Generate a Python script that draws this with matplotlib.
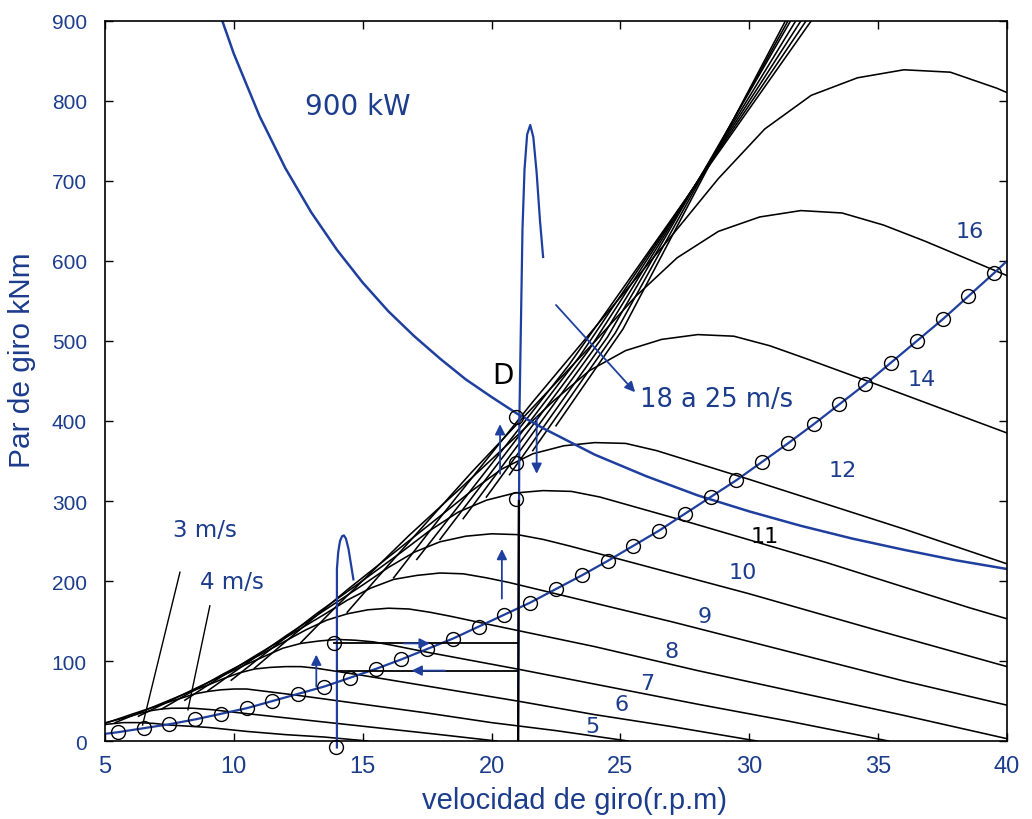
import matplotlib
matplotlib.use("Agg")
import matplotlib.pyplot as plt

plt.rcParams["font.family"] = ["Liberation Sans", "DejaVu Sans"]

azul = "#1f3f9f"
azul_txt = "#1c3c8c"
ancha = ["DejaVu Sans"]

# curvas par / velocidad de giro para cada viento (m/s)
rpm_3 = [4.5, 5.1, 5.7, 6.3, 6.9, 7.5, 9.0, 10.5, 12.0, 13.5, 15.2]
par_3 = [18, 21, 23, 23, 22, 20, 17, 12, 8, 5, 0]
rpm_4 = [4.8, 5.4, 6.0, 6.4, 6.8, 7.2, 7.6, 8.0, 8.4, 8.8, 9.2, 10.0, 12.0, 14.0, 16.0, 18.0, 20.2]
par_4 = [21, 26, 31, 35, 38, 40, 41, 41, 41, 40, 39, 36, 29, 22, 15, 8, 0]
rpm_5 = [4.5, 5.0, 6.0, 6.75, 7.5, 8.0, 8.5, 9.0, 9.5, 10.0, 10.5, 11.0, 11.5, 12.5, 15.0, 17.5, 20.0, 22.5, 25.3]
par_5 = [16, 22, 33, 41, 49, 54, 59, 62, 64, 65, 65, 63, 61, 57, 46, 35, 23, 13, 0]
rpm_6 = [5.4, 6.0, 7.2, 8.1, 9.0, 9.6, 10.2, 10.8, 11.4, 12.0, 12.6, 13.2, 13.8, 15.0, 18.0, 21.0, 24.0, 27.0, 30.3]
par_6 = [23, 31, 47, 59, 70, 78, 85, 90, 92, 93, 93, 91, 88, 82, 66, 50, 33, 18, 0]
rpm_7 = [6.3, 7.0, 8.4, 9.45, 10.5, 11.2, 11.9, 12.6, 13.3, 14.0, 14.7, 15.4, 16.1, 17.5, 21.0, 24.5, 28.0, 31.5, 35.4]
par_7 = [31, 42, 64, 80, 96, 106, 116, 122, 125, 127, 126, 124, 120, 111, 90, 68, 46, 25, 0]
rpm_8 = [7.2, 8.0, 9.6, 10.8, 12.0, 12.8, 13.6, 14.4, 15.2, 16.0, 16.8, 17.6, 18.4, 20.0, 24.0, 28.0, 32.0, 36.0, 40.4]
par_8 = [40, 55, 84, 104, 125, 139, 151, 159, 164, 166, 165, 161, 156, 145, 118, 88, 60, 32, 0]
rpm_9 = [8.1, 9.0, 10.8, 12.15, 13.5, 14.4, 15.3, 16.2, 17.1, 18.0, 18.9, 19.8, 20.7, 22.5, 27.0, 31.5, 36.0, 40.5]
par_9 = [51, 70, 106, 132, 158, 176, 191, 202, 207, 210, 209, 204, 198, 184, 149, 112, 75, 41]
rpm_10 = [9, 10, 12, 13.5, 15, 16, 17, 18, 19, 20, 21, 22, 23, 25, 30, 35, 40]
par_10 = [63, 86, 131, 163, 195, 217, 236, 249, 256, 259, 258, 252, 244, 227, 184, 138, 93]
rpm_11 = [9.9, 11.0, 13.2, 14.85, 16.5, 17.6, 18.7, 19.8, 20.9, 22.0, 23.1, 24.2, 25.3, 27.5, 33.0, 38.5, 40.5]
par_11 = [76, 104, 159, 197, 236, 263, 286, 301, 310, 313, 312, 305, 295, 275, 223, 167, 148]
rpm_12 = [10.8, 12, 14.4, 16.2, 18, 19.2, 20.4, 21.6, 22.8, 24, 25.2, 26.4, 27.6, 30, 36, 40.5]
par_12 = [91, 124, 189, 235, 281, 312, 340, 359, 369, 373, 372, 363, 351, 327, 265, 216]
rpm_14 = [12.6, 14, 16.8, 18.9, 21, 22.4, 23.8, 25.2, 26.6, 28, 29.4, 30.8, 32.2, 35, 40.5]
par_14 = [123, 169, 257, 319, 382, 425, 463, 488, 502, 508, 506, 494, 478, 445, 379]
rpm_16 = [14.4, 16, 19.2, 21.6, 24, 25.6, 27.2, 28.8, 30.4, 32, 33.6, 35.2, 36.8, 40.5]
par_16 = [161, 220, 335, 417, 499, 556, 604, 637, 655, 663, 660, 645, 625, 575]
rpm_18 = [16.2, 18, 21.6, 24.3, 27, 28.8, 30.6, 32.4, 34.2, 36, 37.8, 39.6, 41.4]
par_18 = [204, 279, 424, 528, 632, 703, 765, 807, 829, 839, 836, 816, 791]
rpm_19 = [17.1, 23.0, 32.4]
par_19 = [227, 470, 900]
rpm_20 = [18.0, 23.4, 32.2]
par_20 = [252, 480, 900]
rpm_21 = [18.9, 23.8, 32.0]
par_21 = [278, 490, 900]
rpm_22 = [19.8, 24.2, 31.8]
par_22 = [305, 500, 900]
rpm_23 = [20.7, 24.5, 31.6]
par_23 = [333, 505, 900]
rpm_24 = [21.6, 24.8, 31.5]
par_24 = [363, 510, 900]
rpm_25 = [22.5, 25.1, 31.4]
par_25 = [394, 515, 900]

# potencia constante 900 kW
rpm_900kw = [9.5, 10, 11, 12, 13, 14, 15, 16, 17, 18, 19, 20, 21, 22, 24, 26, 28, 30, 32, 34, 36, 38, 40]
par_900kw = [905, 859, 781, 716, 661, 614, 573, 537, 506, 478, 452, 430, 409, 391, 358, 331, 307, 287, 269, 253, 239, 226, 215]

# curva de par optimo (circulos)
rpm_opt = [5.5, 6.5, 7.5, 8.5, 9.5, 10.5, 11.5, 12.5, 13.5, 14.5, 15.5, 16.5, 17.5, 18.5, 19.5, 20.5, 21.5,
           22.5, 23.5, 24.5, 25.5, 26.5, 27.5, 28.5, 29.5, 30.5, 31.5, 32.5, 33.5, 34.5, 35.5, 36.5, 37.5, 38.5, 39.5]
par_opt = [11, 16, 21, 27, 34, 41, 50, 59, 68, 79, 90, 102, 115, 128, 143, 158, 173,
           190, 207, 225, 244, 263, 284, 305, 326, 349, 372, 396, 421, 446, 473, 500, 527, 556, 585]
rpm_opt_linea = [5.0] + rpm_opt + [40.0]
par_opt_linea = [9] + par_opt + [600]

# trayectorias verticales con los picos
rpm_pico1 = [14.0, 14.0, 14.05, 14.12, 14.2, 14.27, 14.35, 14.45, 14.55, 14.64]
par_pico1 = [-8, 215, 236, 250, 256, 257, 253, 240, 220, 202]
rpm_pico2 = [21.03, 21.08, 21.2, 21.28, 21.38, 21.5, 21.62, 21.75, 21.88, 22.0]
par_pico2 = [0, 405, 640, 715, 758, 770, 755, 710, 650, 605]

# puntos de operacion
rpm_puntos = [20.95, 20.95, 20.95, 13.9, 13.95]
par_puntos = [405, 348, 302, 122, -7]

curvas = [(rpm_3, par_3), (rpm_4, par_4), (rpm_5, par_5), (rpm_6, par_6), (rpm_7, par_7),
          (rpm_8, par_8), (rpm_9, par_9), (rpm_10, par_10), (rpm_11, par_11), (rpm_12, par_12),
          (rpm_14, par_14), (rpm_16, par_16), (rpm_18, par_18), (rpm_19, par_19), (rpm_20, par_20),
          (rpm_21, par_21), (rpm_22, par_22), (rpm_23, par_23), (rpm_24, par_24), (rpm_25, par_25)]

fig = plt.figure(figsize=(10.32, 8.2), dpi=100)
ax = fig.add_axes([0.1017, 0.0951, 0.8741, 0.8781])

for r, p in curvas:
    ax.plot(r, p, color="black", lw=1.15)

ax.plot(rpm_900kw, par_900kw, color=azul, lw=1.8)
ax.plot(rpm_opt_linea, par_opt_linea, color=azul, lw=1.6)
ax.plot(rpm_opt, par_opt, linestyle="none", marker="o", ms=10, mfc="none", mec="black", mew=1.0)

ax.plot(rpm_pico1, par_pico1, color=azul, lw=1.6, clip_on=False)
ax.plot(rpm_pico2, par_pico2, color=azul, lw=1.6)
ax.plot([21.03, 21.06], [0, 300], color="black", lw=1.6)

# escalones horizontales
ax.plot([13.9, 21.03], [122, 122], color="black", lw=1.3)
ax.plot([14.0, 21.03], [88, 88], color="black", lw=1.3)

ax.plot(rpm_puntos, par_puntos, linestyle="none", marker="o", ms=10, mfc="none", mec="black",
        mew=1.0, clip_on=False)

flecha = dict(arrowstyle="-|>", color=azul, lw=1.3, mutation_scale=15, shrinkA=0, shrinkB=0)
ax.annotate("", xy=(13.2, 108), xytext=(13.2, 68), arrowprops=flecha)
ax.annotate("", xy=(17.6, 122), xytext=(16.6, 122), arrowprops=flecha)
ax.annotate("", xy=(16.9, 88), xytext=(18.2, 88), arrowprops=flecha)
ax.annotate("", xy=(20.4, 240), xytext=(20.4, 178), arrowprops=flecha)
ax.annotate("", xy=(20.33, 396), xytext=(20.33, 334), arrowprops=flecha)
ax.annotate("", xy=(21.75, 334), xytext=(21.75, 405), arrowprops=flecha)
ax.annotate("", xy=(25.57, 436), xytext=(22.5, 545), arrowprops=flecha)

# lineas de las etiquetas 3 y 4 m/s
ax.plot([7.91, 6.46], [211, 20], color="black", lw=1.0)
ax.plot([9.07, 8.22], [169, 39], color="black", lw=1.0)

ax.text(14.82, 794, "900 kW", color=azul_txt, fontsize=20, family=ancha, ha="center", va="center")
ax.text(20.44, 457, "D", color="black", fontsize=20, family=ancha, ha="center", va="center")
ax.text(25.76, 427, "18 a 25 m/s", color=azul_txt, fontsize=18.5, family=ancha, ha="left", va="center")
ax.text(7.64, 265, "3 m/s", color=azul_txt, fontsize=16.5, family=ancha, ha="left", va="center")
ax.text(8.69, 199, "4 m/s", color=azul_txt, fontsize=16.5, family=ancha, ha="left", va="center")

etiquetas = ["5", "6", "7", "8", "9", "10", "11", "12", "14", "16"]
etiq_rpm = [23.9, 25.06, 26.03, 27.0, 28.28, 29.76, 30.6, 33.64, 36.7, 38.57]
etiq_par = [19, 46, 72, 112, 156, 211, 256, 339, 452, 637]
for t, xr, yp in zip(etiquetas, etiq_rpm, etiq_par):
    c = "black" if t == "11" else azul_txt
    ax.text(xr, yp, t, color=c, fontsize=16, family=ancha, ha="center", va="center")

ax.set_xlim(5, 40)
ax.set_ylim(0, 900)
ax.set_xticks(range(5, 41, 5))
ax.set_yticks(range(0, 901, 100))
ax.tick_params(direction="in", top=True, right=True, length=6, width=1.0)
ax.tick_params(axis="x", pad=10, labelsize=17, labelcolor=azul_txt)
ax.tick_params(axis="y", pad=13, labelsize=15, labelcolor=azul_txt)
for s in ax.spines.values():
    s.set_linewidth(1.2)

ax.set_xlabel("velocidad de giro(r.p.m)", color=azul_txt, fontsize=21)
ax.set_ylabel("Par de giro kNm", color=azul_txt, fontsize=21.5)
ax.xaxis.set_label_coords(0.52, -0.062)
ax.yaxis.set_label_coords(-0.076, 0.53)

fig.savefig("out.png", dpi=100)
